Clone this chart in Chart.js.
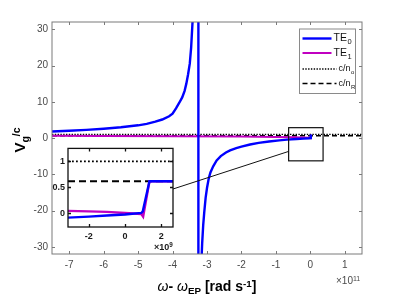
<!DOCTYPE html>
<html>
<head>
<meta charset="utf-8">
<script src="https://cdn.jsdelivr.net/npm/chart.js@4.4.1/dist/chart.umd.min.js"></script>
<style>
  html, body { margin: 0; padding: 0; background: #fff; }
  #wrap { position: relative; width: 399px; height: 299px; overflow: hidden; font-family: "Liberation Sans", Arial, Helvetica, sans-serif; }
  canvas { position: absolute; }
  #main { left: 0; top: 0; }
  #inset { left: 40px; top: 140px; }
  .txt { position: absolute; white-space: nowrap; line-height: 1; }
  .sub { font-size: 0.7em; position: relative; top: 0.35em; }
  .sup { font-size: 0.7em; position: relative; top: -0.45em; }
</style>
</head>
<body>
<div id="wrap">
  <canvas id="main" width="399" height="299"></canvas>
  <canvas id="inset" width="140" height="115"></canvas>
  <div class="txt" id="ylab" style="left:19px;top:140px;transform:translate(-50%,-50%) rotate(-90deg);font-weight:bold;font-size:15px;">V<span class="sub">g</span><span class="sup">/c</span></div>
  <div class="txt" id="xlab" style="left:52px;width:310px;top:279px;text-align:center;font-weight:bold;font-size:14px;"><i style="font-weight:normal">ω</i>- <i style="font-weight:normal">ω</i><span class="sub">EP</span> [rad s<span class="sup">-1</span>]</div>
  <div class="txt" style="left:336px;top:276px;font-size:10px;color:#4a4a4a;">×10<span class="sup">11</span></div>
  <div class="txt" style="left:154px;top:243px;font-size:9px;font-weight:bold;color:#1a1a1a;">×10<span class="sup">9</span></div>
</div>
<script>
// main plot: x in units of 1e11 rad/s
const xRange = [-7.5, 1.5];
const yRange = [-32, 32];
const xTicks = [-7, -6, -5, -4, -3, -2, -1, 0, 1];
const yTicks = [-30, -20, -10, 0, 10, 20, 30];

const te0X = [-7.5, -7.0, -6.5, -6.0, -5.5, -5.0, -4.75, -4.5, -4.3, -4.1, -4.0, -3.9, -3.8, -3.72, -3.65, -3.6,
              -3.55, -3.5, -3.46, -3.42, -3.38, -3.3, -3.25,
              -3.25, -3.2, -3.17, -3.14, -3.11, -3.08, -3.04, -3.0, -2.95, -2.9, -2.82, -2.72, -2.6, -2.45, -2.33,
              -2.15, -2.0, -1.75, -1.5, -1.2, -0.9, -0.68, -0.4, -0.2, -0.03, 0.01, 0.013, 0.05];
const te0Y = [1.8, 2.0, 2.25, 2.55, 2.95, 3.5, 3.9, 4.5, 5.1, 6.0, 6.7, 8.2, 9.8, 11.2, 13, 15,
              17.5, 20.5, 25, 32, 42, 70, 90,
              -90, -45, -36, -29, -24, -20.5, -16.5, -13.8, -11.2, -9.5, -7.8, -6.2, -5.0, -4.0, -3.4,
              -2.8, -2.4, -1.8, -1.35, -0.95, -0.65, -0.45, -0.28, -0.17, -0.08, 0.0, 0.62, 0.62];
const te1X = [-7.5, -6, -4, -2, -1, -0.5, -0.03, 0.01, 0.013, 0.05];
const te1Y = [0.6, 0.55, 0.5, 0.4, 0.3, 0.22, 0.05, -0.05, 0.62, 0.62];
const cnO = 1;
const cnR = 0.62;

// zoomed region marked on the main plot
const zoomBoxX = [-0.63, 0.37];
const zoomBoxY = [-6.3, 2.85];

// inset: x in units of 1e9 rad/s
const insetXRange = [-3.15, 2.65];
const insetYRange = [-0.26, 1.25];
const insetXTicks = [-2, 0, 2];
const insetYTicks = [0, 0.5, 1];
const insetTe0X = [-3.15, -2, -1, 0, 0.9, 0.98, 1.35, 2.65];
const insetTe0Y = [-0.08, -0.06, -0.04, -0.02, 0.01, 0.04, 0.62, 0.62];
const insetTe1X = [-3.15, -2, -1, 0, 0.9, 1.0, 1.35, 2.65];
const insetTe1Y = [0.05, 0.04, 0.03, 0.01, -0.01, -0.06, 0.62, 0.62];

const BLUE = '#0000ff';
const MAGENTA = '#c000c0';

Chart.defaults.font.family = '"Liberation Sans", Arial, Helvetica, sans-serif';

const pts = (xs, ys) => xs.map((x, i) => ({ x: x, y: ys[i] }));
const hline = (v, range) => [{ x: range[0], y: v }, { x: range[1], y: v }];

// box + inward ticks on all four sides
const framePlugin = {
  id: 'frame',
  afterDatasetsDraw(chart, args, opts) {
    const { ctx, chartArea: a, scales: { x, y } } = chart;
    ctx.save();
    ctx.strokeStyle = opts.color;
    ctx.lineWidth = opts.width;
    ctx.beginPath();
    x.ticks.forEach(t => {
      const px = Math.round(x.getPixelForValue(t.value)) + 0.5;
      ctx.moveTo(px, a.bottom); ctx.lineTo(px, a.bottom - opts.len);
      ctx.moveTo(px, a.top); ctx.lineTo(px, a.top + opts.len);
    });
    y.ticks.forEach(t => {
      const py = Math.round(y.getPixelForValue(t.value)) + 0.5;
      ctx.moveTo(a.left, py); ctx.lineTo(a.left + opts.len, py);
      ctx.moveTo(a.right, py); ctx.lineTo(a.right - opts.len, py);
    });
    ctx.stroke();
    ctx.strokeRect(a.left, a.top, a.right - a.left, a.bottom - a.top);
    ctx.restore();
  }
};

// zoom box, connector to inset, and legend
const mainExtras = {
  id: 'mainExtras',
  afterDraw(chart) {
    const { ctx, chartArea: a, scales: { x, y } } = chart;
    ctx.save();
    // zoom box
    const bx0 = x.getPixelForValue(zoomBoxX[0]), bx1 = x.getPixelForValue(zoomBoxX[1]);
    const by0 = y.getPixelForValue(zoomBoxY[1]), by1 = y.getPixelForValue(zoomBoxY[0]);
    ctx.strokeStyle = '#111';
    ctx.lineWidth = 1.2;
    ctx.strokeRect(bx0, by0, bx1 - bx0, by1 - by0);
    // connector
    ctx.lineWidth = 1;
    ctx.beginPath();
    ctx.moveTo(bx0, y.getPixelForValue(-3.7));
    ctx.lineTo(173, 189);
    ctx.stroke();

    // legend
    const L = a.right - 63, T = a.top + 6.5, W = 56, H = 64.5;
    ctx.fillStyle = '#fff';
    ctx.fillRect(L, T, W, H);
    ctx.strokeStyle = '#8a8a8a';
    ctx.lineWidth = 1;
    ctx.strokeRect(L + 0.5, T + 0.5, W, H);
    const rows = [10, 24.5, 40.5, 55];
    const lens = [29, 29, 34, 34];
    chart.data.datasets.forEach((ds, i) => {
      const yy = T + rows[i];
      ctx.strokeStyle = ds.borderColor;
      ctx.lineWidth = ds.borderWidth;
      ctx.setLineDash(ds.borderDash || []);
      ctx.beginPath();
      ctx.moveTo(L + 3.5, yy);
      ctx.lineTo(L + 3.5 + lens[i], yy);
      ctx.stroke();
      ctx.setLineDash([]);
      const fs = i < 2 ? 10.5 : 9;
      ctx.fillStyle = '#111';
      ctx.textBaseline = 'middle';
      ctx.font = fs + 'px "Liberation Sans", Arial, sans-serif';
      const tx = L + 5.5 + lens[i];
      ctx.fillText(ds.label, tx, yy);
      const w = ctx.measureText(ds.label).width;
      ctx.font = (fs - 3) + 'px "Liberation Sans", Arial, sans-serif';
      ctx.fillText(ds.sub, tx + w + 0.5, yy + 3.5);
    });
    ctx.restore();
  }
};

const fixTicks = list => scale => { scale.ticks = list.map(v => ({ value: v })); };

new Chart(document.getElementById('main'), {
  type: 'line',
  data: {
    datasets: [
      { label: 'TE', sub: '0', data: pts(te0X, te0Y), borderColor: BLUE, borderWidth: 2.4, pointRadius: 0, tension: 0 },
      { label: 'TE', sub: '1', data: pts(te1X, te1Y), borderColor: MAGENTA, borderWidth: 2, pointRadius: 0, tension: 0 },
      { label: 'c/n', sub: 'o', data: hline(cnO, xRange), borderColor: '#000', borderWidth: 1.4, borderDash: [1.4, 1.4], pointRadius: 0 },
      { label: 'c/n', sub: 'R', data: hline(cnR, xRange), borderColor: '#000', borderWidth: 1.4, borderDash: [5, 3], pointRadius: 0 }
    ]
  },
  options: {
    responsive: false,
    animation: false,
    events: [],
    layout: { padding: { left: 0, top: 22, right: 37, bottom: 0 } },
    plugins: {
      legend: { display: false },
      tooltip: { enabled: false },
      frame: { color: '#7a7a7a', width: 1, len: 3 }
    },
    scales: {
      x: {
        type: 'linear', min: xRange[0], max: xRange[1],
        afterBuildTicks: fixTicks(xTicks),
        afterFit: s => { s.height = 45; },
        grid: { display: false, drawTicks: false },
        border: { display: false },
        ticks: { color: '#4a4a4a', font: { size: 10 }, padding: 5, maxRotation: 0, autoSkip: false, callback: v => String(v) }
      },
      y: {
        type: 'linear', min: yRange[0], max: yRange[1],
        afterBuildTicks: fixTicks(yTicks),
        afterFit: s => { s.width = 52; },
        grid: { display: false, drawTicks: false },
        border: { display: false },
        ticks: { color: '#4a4a4a', font: { size: 10 }, padding: 4, autoSkip: false, callback: v => String(v) }
      }
    }
  },
  plugins: [framePlugin, mainExtras]
});

const insetBg = {
  id: 'insetBg',
  beforeDatasetsDraw(chart) {
    const { ctx, chartArea: a } = chart;
    ctx.save();
    ctx.fillStyle = '#fff';
    ctx.fillRect(a.left, a.top, a.right - a.left, a.bottom - a.top);
    ctx.restore();
  }
};

new Chart(document.getElementById('inset'), {
  type: 'line',
  data: {
    datasets: [
      { data: pts(insetTe0X, insetTe0Y), borderColor: BLUE, borderWidth: 2.4, pointRadius: 0, tension: 0 },
      { data: pts(insetTe1X, insetTe1Y), borderColor: MAGENTA, borderWidth: 2.4, pointRadius: 0, tension: 0 },
      { data: hline(cnO, insetXRange), borderColor: '#000', borderWidth: 1.8, borderDash: [1.8, 2.2], pointRadius: 0 },
      { data: hline(cnR, insetXRange), borderColor: '#000', borderWidth: 2, borderDash: [7, 4], pointRadius: 0 }
    ]
  },
  options: {
    responsive: false,
    animation: false,
    events: [],
    layout: { padding: { left: 0, top: 8, right: 7, bottom: 0 } },
    plugins: {
      legend: { display: false },
      tooltip: { enabled: false },
      frame: { color: '#111', width: 1.3, len: 3 }
    },
    scales: {
      x: {
        type: 'linear', min: insetXRange[0], max: insetXRange[1],
        afterBuildTicks: fixTicks(insetXTicks),
        afterFit: s => { s.height = 28; },
        grid: { display: false, drawTicks: false },
        border: { display: false },
        ticks: { color: '#1a1a1a', font: { size: 9, weight: 'bold' }, padding: 4, maxRotation: 0, autoSkip: false, callback: v => String(v) }
      },
      y: {
        type: 'linear', min: insetYRange[0], max: insetYRange[1],
        afterBuildTicks: fixTicks(insetYTicks),
        afterFit: s => { s.width = 28; },
        grid: { display: false, drawTicks: false },
        border: { display: false },
        ticks: { color: '#1a1a1a', font: { size: 9, weight: 'bold' }, padding: 3, autoSkip: false, callback: v => String(v) }
      }
    }
  },
  plugins: [insetBg, framePlugin]
});
</script>
</body>
</html>
